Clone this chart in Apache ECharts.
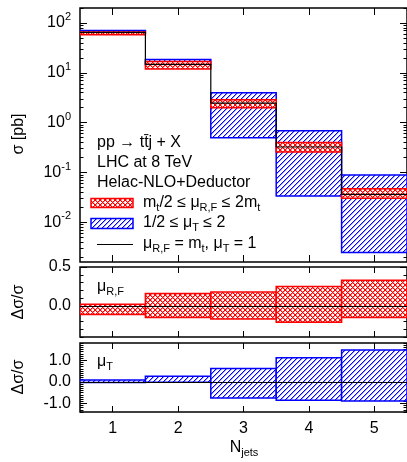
<!DOCTYPE html>
<html><head><meta charset="utf-8">
<script src="https://cdn.jsdelivr.net/npm/echarts@6/dist/echarts.min.js"></script>
<style>html,body{margin:0;padding:0;background:#fff}#c{width:407px;height:462px}</style>
</head><body><div id="c"></div>
<script>
// ---- data ----
const nJets = [1, 2, 3, 4, 5];
const central = [65, 14.8, 2.47, 0.325, 0.0363];
const scaleRFLow = [58.3, 12.0, 2.0, 0.258, 0.0306];
const scaleRFHigh = [66.3, 16.8, 2.88, 0.40, 0.047];
const scaleTLow = [63, 14.5, 0.50, 0.0336, 0.00247];
const scaleTHigh = [71, 18.5, 3.98, 0.69, 0.0895];
const ratioRFLow = [-0.11, -0.15, -0.17, -0.21, -0.15];
const ratioRFHigh = [0.02, 0.16, 0.18, 0.25, 0.33];
const ratioTLow = [-0.03, -0.02, -0.75, -0.85, -0.89];
const ratioTHigh = [0.08, 0.26, 0.62, 1.12, 1.47];
// ---- tick values ----
const xTicks = [1, 2, 3, 4, 5];
const logMajorTicks = [0.01, 0.1, 1, 10, 100];
const logDecades = [0.001, 0.01, 0.1, 1, 10, 100];
const logMinorMult = [2, 3, 4, 5, 6, 7, 8, 9];
const rfMajorTicks = [0, 0.5];
const rfMinorTicks = [-0.4, -0.3, -0.2, -0.1, 0, 0.1, 0.2, 0.3, 0.4, 0.5];
const tMajorTicks = [-1, 0, 1];
const tMinorTicks = [-1.4, -1.3, -1.2, -1.1, -1.0, -0.9, -0.8, -0.7, -0.6, -0.5, -0.4, -0.3, -0.2, -0.1, 0,
  0.1, 0.2, 0.3, 0.4, 0.5, 0.6, 0.7, 0.8, 0.9, 1.0, 1.1, 1.2, 1.3, 1.4, 1.5, 1.6, 1.7, 1.8];

const FONT = 'Liberation Sans, Arial, Helvetica, sans-serif';
const RED = '#ff0000', BLUE = '#0000ff';
const logMin = 0.0016, logMax = 200;

// crisp pixel hatch tiles
function pixelHatch(size, color, soft, both) {
  const c = document.createElement('canvas');
  c.width = c.height = size;
  const g = c.getContext('2d');
  g.fillStyle = '#fff'; g.fillRect(0, 0, size, size);
  for (let i = 0; i < size; i++) {
    const j = size - 1 - i;
    g.fillStyle = soft; g.fillRect((i + 1) % size, j, 1, 1);
    if (both) g.fillRect((i + 1) % size, i, 1, 1);
  }
  for (let i = 0; i < size; i++) {
    const j = size - 1 - i;
    g.fillStyle = color; g.fillRect(i, j, 1, 1);
    if (both) g.fillRect(i, i, 1, 1);
  }
  return c;
}
const bluePat = { image: pixelHatch(5, BLUE, '#a0a0ff', false), repeat: 'repeat' };
const redPat = { image: pixelHatch(5, RED, '#ff9090', true), repeat: 'repeat' };

const logMinorTicks = [];
logDecades.forEach(d => logMinorMult.forEach(m => {
  const v = d * m;
  if (v >= logMin && v <= logMax) logMinorTicks.push(v);
}));

const grids = [
  { left: 80, top: 8, width: 328, height: 254 },
  { left: 80, top: 267, width: 328, height: 70 },
  { left: 80, top: 343, width: 328, height: 69 }
].map(g => Object.assign({ show: true, borderColor: '#000', borderWidth: 1.5, backgroundColor: 'transparent' }, g));

const xAxes = [];
[7, 6, 6].forEach((len, gi) => {
  ['bottom', 'top'].forEach(pos => {
    xAxes.push({
      type: 'value', gridIndex: gi, min: 0.5, max: 5.5, position: pos,
      axisLine: { show: false, onZero: false },
      splitLine: { show: false },
      axisTick: { show: true, inside: true, length: len, customValues: xTicks, lineStyle: { color: '#000', width: 1 } },
      axisLabel: { show: gi === 2 && pos === 'bottom', customValues: xTicks, margin: 9, color: '#000', fontSize: 16, fontFamily: FONT }
    });
  });
});

const yAxes = [];
function addY(gi, type, min, max, major, minor, fmt) {
  ['left', 'right'].forEach(pos => {
    yAxes.push({
      type, gridIndex: gi, min, max, position: pos,
      axisLine: { show: false, onZero: false }, splitLine: { show: false },
      axisTick: { show: true, inside: true, length: 7, customValues: major, lineStyle: { color: '#000', width: 1 } },
      axisLabel: {
        show: pos === 'left', customValues: major, margin: 9, color: '#000', fontSize: 16, fontFamily: FONT,
        formatter: fmt,
        rich: { s: { fontSize: 11, fontFamily: FONT, color: '#000', padding: [0, 0, 12, 0] } }
      }
    });
    yAxes.push({
      type, gridIndex: gi, min, max, position: pos,
      axisLine: { show: false, onZero: false }, splitLine: { show: false },
      axisTick: { show: true, inside: true, length: 3.5, customValues: minor, lineStyle: { color: '#000', width: 1 } },
      axisLabel: { show: false }
    });
  });
}
addY(0, 'log', logMin, logMax, logMajorTicks, logMinorTicks, v => '10{s|' + Math.round(Math.log10(v)) + '}');
addY(1, 'value', -0.4, 0.5, rfMajorTicks, rfMinorTicks, v => v.toFixed(1));
addY(2, 'value', -1.4, 1.8, tMajorTicks, tMinorTicks, v => v.toFixed(1));

function bandRender(pattern, stroke) {
  return function (params, api) {
    const x = api.value(0), lo = api.value(1), hi = api.value(2);
    const p1 = api.coord([x - 0.5, hi]);
    const p2 = api.coord([x + 0.5, lo]);
    return {
      type: 'rect',
      shape: { x: p1[0], y: p1[1], width: p2[0] - p1[0], height: p2[1] - p1[1] },
      style: { fill: pattern, stroke: stroke, lineWidth: 1.5 }
    };
  };
}
const bandData = (lo, hi) => nJets.map((x, i) => [x, lo[i], hi[i]]);
const stepData = [];
nJets.forEach((x, i) => { stepData.push([x - 0.5, central[i]], [x + 0.5, central[i]]); });

const zeroLine = {
  silent: true, symbol: 'none', label: { show: false },
  lineStyle: { color: '#000', width: 1, type: 'solid' },
  data: [{ yAxis: 0 }], animation: false
};

const series = [
  { type: 'custom', xAxisIndex: 0, yAxisIndex: 0, data: bandData(scaleTLow, scaleTHigh), encode: { x: 0, y: [1, 2] }, renderItem: bandRender(bluePat, BLUE), clip: true, z: 2 },
  { type: 'custom', xAxisIndex: 0, yAxisIndex: 0, data: bandData(scaleRFLow, scaleRFHigh), encode: { x: 0, y: [1, 2] }, renderItem: bandRender(redPat, RED), clip: true, z: 3 },
  { type: 'line', xAxisIndex: 0, yAxisIndex: 0, data: stepData, symbol: 'none', lineStyle: { color: '#000', width: 1.2 }, z: 4 },
  { type: 'custom', xAxisIndex: 2, yAxisIndex: 4, data: bandData(ratioRFLow, ratioRFHigh), encode: { x: 0, y: [1, 2] }, renderItem: bandRender(redPat, RED), clip: true, markLine: zeroLine, z: 3 },
  { type: 'custom', xAxisIndex: 4, yAxisIndex: 8, data: bandData(ratioTLow, ratioTHigh), encode: { x: 0, y: [1, 2] }, renderItem: bandRender(bluePat, BLUE), clip: true, markLine: zeroLine, z: 3 }
];

const rich = {
  sub: { fontSize: 11, fontFamily: FONT, fill: '#000', padding: [10, 0, 0, 0] }
};
function txt(x, y, text, extra) {
  return Object.assign({
    type: 'text', x, y, z: 100,
    style: Object.assign({ text, fill: '#000', fontSize: 16, fontFamily: FONT, align: 'left', verticalAlign: 'middle', rich }, extra || {})
  });
}
const graphic = [
  txt(97, 143, 'pp \u2192 tt\u0304j + X'),
  txt(97, 163, 'LHC at 8 TeV'),
  txt(97, 183, 'Helac-NLO+Deductor'),
  { type: 'rect', z: 100, shape: { x: 91, y: 198.5, width: 42, height: 9 }, style: { fill: redPat, stroke: RED, lineWidth: 1.5 } },
  txt(143, 203, 'm{sub|t}/2 \u2264 \u03bc{sub|R,F} \u2264 2m{sub|t}'),
  { type: 'rect', z: 100, shape: { x: 91, y: 218.5, width: 42, height: 10 }, style: { fill: bluePat, stroke: BLUE, lineWidth: 1.5 } },
  txt(143, 223, '1/2 \u2264 \u03bc{sub|T} \u2264 2'),
  { type: 'line', z: 100, shape: { x1: 97, y1: 244.5, x2: 133, y2: 244.5 }, style: { stroke: '#000', lineWidth: 1 } },
  txt(143, 244, '\u03bc{sub|R,F} = m{sub|t}, \u03bc{sub|T} = 1'),
  txt(97, 287, '\u03bc{sub|R,F}'),
  txt(97, 362, '\u03bc{sub|T}'),
  { type: 'text', x: 19, y: 134, rotation: Math.PI / 2, z: 100, style: { text: '\u03c3 [pb]', fill: '#000', fontSize: 16, fontFamily: FONT, align: 'center', verticalAlign: 'middle' } },
  { type: 'text', x: 19, y: 302, rotation: Math.PI / 2, z: 100, style: { text: '\u0394\u03c3/\u03c3', fill: '#000', fontSize: 16, fontFamily: FONT, align: 'center', verticalAlign: 'middle' } },
  { type: 'text', x: 19, y: 377, rotation: Math.PI / 2, z: 100, style: { text: '\u0394\u03c3/\u03c3', fill: '#000', fontSize: 16, fontFamily: FONT, align: 'center', verticalAlign: 'middle' } },
  txt(244, 448, 'N{sub|jets}', { align: 'center' })
];

const chart = echarts.init(document.getElementById('c'), null, { renderer: 'canvas' });
chart.setOption({
  animation: false,
  backgroundColor: '#fff',
  textStyle: { fontFamily: FONT },
  grid: grids,
  xAxis: xAxes,
  yAxis: yAxes,
  series,
  graphic
});
</script></body></html>
